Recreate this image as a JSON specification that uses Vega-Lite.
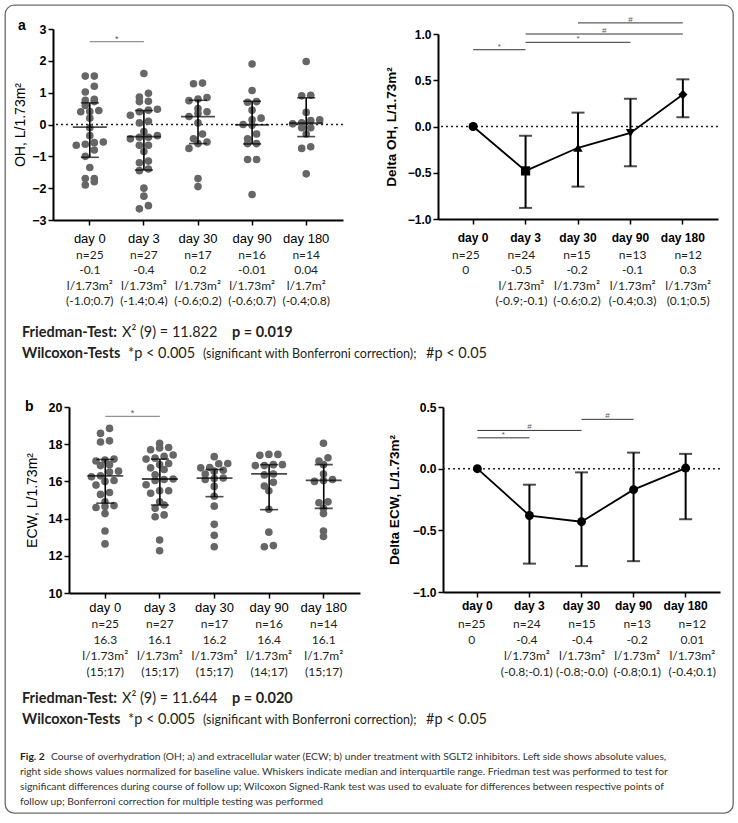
{
"$schema": "https://vega.github.io/schema/vega-lite/v6.json",
"background": "white",
"padding": 0,
"spacing": 0,
"bounds": "flush",
"config": {
  "view": {"stroke": null},
  "axis": {"grid": false, "labelOverlap": false, "domainColor": "black", "tickColor": "black", "labelColor": "black", "titleColor": "black", "labelFont": "Liberation Sans", "titleFont": "Liberation Sans"},
  "text": {"font": "Lato", "color": "#231f20"}
},
"datasets": {
  "ohAbs": [
    {"d":"day 0","v":1.52},{"d":"day 0","v":1.52},{"d":"day 0","v":1.2},{"d":"day 0","v":1.02},{"d":"day 0","v":0.79},{"d":"day 0","v":0.76},{"d":"day 0","v":0.72},{"d":"day 0","v":0.6},{"d":"day 0","v":0.44},{"d":"day 0","v":0.41},{"d":"day 0","v":0.4},{"d":"day 0","v":0.2},{"d":"day 0","v":-0.1},{"d":"day 0","v":-0.35},{"d":"day 0","v":-0.55},{"d":"day 0","v":-0.57},{"d":"day 0","v":-0.62},{"d":"day 0","v":-0.65},{"d":"day 0","v":-0.8},{"d":"day 0","v":-1.0},{"d":"day 0","v":-1.35},{"d":"day 0","v":-1.7},{"d":"day 0","v":-1.7},{"d":"day 0","v":-1.8},{"d":"day 0","v":-1.9},
    {"d":"day 3","v":1.6},{"d":"day 3","v":0.98},{"d":"day 3","v":0.86},{"d":"day 3","v":0.73},{"d":"day 3","v":0.72},{"d":"day 3","v":0.48},{"d":"day 3","v":0.45},{"d":"day 3","v":0.4},{"d":"day 3","v":0.29},{"d":"day 3","v":0.1},{"d":"day 3","v":0.05},{"d":"day 3","v":-0.22},{"d":"day 3","v":-0.35},{"d":"day 3","v":-0.4},{"d":"day 3","v":-0.4},{"d":"day 3","v":-0.45},{"d":"day 3","v":-0.65},{"d":"day 3","v":-0.65},{"d":"day 3","v":-0.85},{"d":"day 3","v":-1.15},{"d":"day 3","v":-1.2},{"d":"day 3","v":-1.4},{"d":"day 3","v":-1.45},{"d":"day 3","v":-2.0},{"d":"day 3","v":-2.25},{"d":"day 3","v":-2.55},{"d":"day 3","v":-2.65},
    {"d":"day 30","v":1.3},{"d":"day 30","v":1.28},{"d":"day 30","v":0.85},{"d":"day 30","v":0.8},{"d":"day 30","v":0.75},{"d":"day 30","v":0.5},{"d":"day 30","v":0.4},{"d":"day 30","v":0.35},{"d":"day 30","v":0.25},{"d":"day 30","v":0.05},{"d":"day 30","v":-0.3},{"d":"day 30","v":-0.45},{"d":"day 30","v":-0.55},{"d":"day 30","v":-0.6},{"d":"day 30","v":-0.75},{"d":"day 30","v":-1.7},{"d":"day 30","v":-1.95},
    {"d":"day 90","v":1.9},{"d":"day 90","v":1.07},{"d":"day 90","v":0.72},{"d":"day 90","v":0.7},{"d":"day 90","v":0.45},{"d":"day 90","v":0.2},{"d":"day 90","v":0.15},{"d":"day 90","v":0.0},{"d":"day 90","v":-0.02},{"d":"day 90","v":-0.3},{"d":"day 90","v":-0.45},{"d":"day 90","v":-0.6},{"d":"day 90","v":-0.6},{"d":"day 90","v":-1.1},{"d":"day 90","v":-1.1},{"d":"day 90","v":-2.2},
    {"d":"day 180","v":1.98},{"d":"day 180","v":0.92},{"d":"day 180","v":0.9},{"d":"day 180","v":0.38},{"d":"day 180","v":0.15},{"d":"day 180","v":0.12},{"d":"day 180","v":0.05},{"d":"day 180","v":0.02},{"d":"day 180","v":-0.1},{"d":"day 180","v":-0.1},{"d":"day 180","v":-0.3},{"d":"day 180","v":-0.7},{"d":"day 180","v":-0.75},{"d":"day 180","v":-1.55}
  ],
  "ohSum": [
    {"d":"day 0","med":-0.08,"q1":-1.03,"q3":0.68},
    {"d":"day 3","med":-0.38,"q1":-1.43,"q3":0.44},
    {"d":"day 30","med":0.25,"q1":-0.6,"q3":0.76},
    {"d":"day 90","med":-0.01,"q1":-0.61,"q3":0.73},
    {"d":"day 180","med":0.04,"q1":-0.38,"q3":0.84}
  ],
  "ohD": [
    {"d":"day 0","med":0},
    {"d":"day 3","med":-0.48,"lo":-0.88,"hi":-0.1},
    {"d":"day 30","med":-0.23,"lo":-0.65,"hi":0.15},
    {"d":"day 90","med":-0.07,"lo":-0.43,"hi":0.3},
    {"d":"day 180","med":0.345,"lo":0.1,"hi":0.51}
  ],
  "ecwAbs": [
    {"d":"day 0","v":18.85},{"d":"day 0","v":18.58},{"d":"day 0","v":18.18},{"d":"day 0","v":18.12},{"d":"day 0","v":17.2},{"d":"day 0","v":17.15},{"d":"day 0","v":17.1},{"d":"day 0","v":16.9},{"d":"day 0","v":16.85},{"d":"day 0","v":16.55},{"d":"day 0","v":16.5},{"d":"day 0","v":16.3},{"d":"day 0","v":16.25},{"d":"day 0","v":16.05},{"d":"day 0","v":16.0},{"d":"day 0","v":15.8},{"d":"day 0","v":15.4},{"d":"day 0","v":15.3},{"d":"day 0","v":14.9},{"d":"day 0","v":14.7},{"d":"day 0","v":14.65},{"d":"day 0","v":14.6},{"d":"day 0","v":14.27},{"d":"day 0","v":13.33},{"d":"day 0","v":12.64},
    {"d":"day 3","v":18.05},{"d":"day 3","v":17.82},{"d":"day 3","v":17.8},{"d":"day 3","v":17.7},{"d":"day 3","v":17.42},{"d":"day 3","v":17.35},{"d":"day 3","v":17.25},{"d":"day 3","v":17.2},{"d":"day 3","v":16.96},{"d":"day 3","v":16.9},{"d":"day 3","v":16.73},{"d":"day 3","v":16.64},{"d":"day 3","v":16.36},{"d":"day 3","v":16.13},{"d":"day 3","v":16.1},{"d":"day 3","v":16.05},{"d":"day 3","v":15.82},{"d":"day 3","v":15.5},{"d":"day 3","v":15.5},{"d":"day 3","v":15.36},{"d":"day 3","v":14.9},{"d":"day 3","v":14.73},{"d":"day 3","v":14.55},{"d":"day 3","v":14.2},{"d":"day 3","v":14.1},{"d":"day 3","v":12.85},{"d":"day 3","v":12.27},
    {"d":"day 30","v":17.33},{"d":"day 30","v":16.96},{"d":"day 30","v":16.95},{"d":"day 30","v":16.75},{"d":"day 30","v":16.73},{"d":"day 30","v":16.6},{"d":"day 30","v":16.55},{"d":"day 30","v":16.4},{"d":"day 30","v":16.18},{"d":"day 30","v":16.15},{"d":"day 30","v":16.1},{"d":"day 30","v":15.73},{"d":"day 30","v":15.2},{"d":"day 30","v":14.67},{"d":"day 30","v":13.69},{"d":"day 30","v":13.1},{"d":"day 30","v":12.49},
    {"d":"day 90","v":17.45},{"d":"day 90","v":17.45},{"d":"day 90","v":17.4},{"d":"day 90","v":16.9},{"d":"day 90","v":16.9},{"d":"day 90","v":16.85},{"d":"day 90","v":16.85},{"d":"day 90","v":16.4},{"d":"day 90","v":16.35},{"d":"day 90","v":15.95},{"d":"day 90","v":15.75},{"d":"day 90","v":15.5},{"d":"day 90","v":14.5},{"d":"day 90","v":13.27},{"d":"day 90","v":12.55},{"d":"day 90","v":12.49},
    {"d":"day 180","v":18.05},{"d":"day 180","v":17.27},{"d":"day 180","v":17.1},{"d":"day 180","v":16.9},{"d":"day 180","v":16.4},{"d":"day 180","v":16.1},{"d":"day 180","v":16.05},{"d":"day 180","v":16.0},{"d":"day 180","v":14.9},{"d":"day 180","v":14.85},{"d":"day 180","v":14.55},{"d":"day 180","v":14.27},{"d":"day 180","v":13.33},{"d":"day 180","v":13.04}
  ],
  "ecwSum": [
    {"d":"day 0","med":16.3,"q1":14.83,"q3":17.18},
    {"d":"day 3","med":16.13,"q1":14.73,"q3":17.2},
    {"d":"day 30","med":16.18,"q1":15.18,"q3":16.64},
    {"d":"day 90","med":16.4,"q1":14.48,"q3":16.9},
    {"d":"day 180","med":16.05,"q1":14.55,"q3":16.9}
  ],
  "ecwD": [
    {"d":"day 0","med":0},
    {"d":"day 3","med":-0.38,"lo":-0.77,"hi":-0.13},
    {"d":"day 30","med":-0.43,"lo":-0.79,"hi":-0.03},
    {"d":"day 90","med":-0.17,"lo":-0.75,"hi":0.13},
    {"d":"day 180","med":0.005,"lo":-0.41,"hi":0.12}
  ],
  "sigAL": [{"from":"day 0","to":"day 3","y":2.6,"s":"*","at":"day 0","pos":"edge"}],
  "sigAR": [
    {"from":"day 0","to":"day 3","y":0.83,"s":"*","at":"day 0","pos":"edge"},
    {"from":"day 3","to":"day 90","y":0.91,"s":"*","at":"day 30","pos":"center"},
    {"from":"day 3","to":"day 180","y":1.0,"s":"#","at":"day 30","pos":"edge"},
    {"from":"day 30","to":"day 180","y":1.12,"s":"#","at":"day 90","pos":"center"}
  ],
  "sigBL": [{"from":"day 0","to":"day 3","y":19.5,"s":"*","at":"day 0","pos":"edge"}],
  "sigBR": [
    {"from":"day 0","to":"day 3","y":0.25,"s":"*","at":"day 0","pos":"edge"},
    {"from":"day 0","to":"day 30","y":0.31,"s":"#","at":"day 3","pos":"center"},
    {"from":"day 30","to":"day 90","y":0.40,"s":"#","at":"day 30","pos":"edge"}
  ],
  "tblAL": [
    {"d":"day 0","line":0,"txt":"n=25"},{"d":"day 0","line":1,"txt":"-0.1"},{"d":"day 0","line":2,"txt":"l/1.73m²"},{"d":"day 0","line":3,"txt":"(-1.0;0.7)"},
    {"d":"day 3","line":0,"txt":"n=27"},{"d":"day 3","line":1,"txt":"-0.4"},{"d":"day 3","line":2,"txt":"l/1.73m²"},{"d":"day 3","line":3,"txt":"(-1.4;0.4)"},
    {"d":"day 30","line":0,"txt":"n=17"},{"d":"day 30","line":1,"txt":"0.2"},{"d":"day 30","line":2,"txt":"l/1.73m²"},{"d":"day 30","line":3,"txt":"(-0.6;0.2)"},
    {"d":"day 90","line":0,"txt":"n=16"},{"d":"day 90","line":1,"txt":"-0.01"},{"d":"day 90","line":2,"txt":"l/1.73m²"},{"d":"day 90","line":3,"txt":"(-0.6;0.7)"},
    {"d":"day 180","line":0,"txt":"n=14"},{"d":"day 180","line":1,"txt":"0.04"},{"d":"day 180","line":2,"txt":"l/1.7m²"},{"d":"day 180","line":3,"txt":"(-0.4;0.8)"}
  ],
  "tblAR": [
    {"d":"day 0","line":0,"txt":"n=25"},{"d":"day 0","line":1,"txt":"0"},
    {"d":"day 3","line":0,"txt":"n=24"},{"d":"day 3","line":1,"txt":"-0.5"},{"d":"day 3","line":2,"txt":"l/1.73m²"},{"d":"day 3","line":3,"txt":"(-0.9;-0.1)"},
    {"d":"day 30","line":0,"txt":"n=15"},{"d":"day 30","line":1,"txt":"-0.2"},{"d":"day 30","line":2,"txt":"l/1.73m²"},{"d":"day 30","line":3,"txt":"(-0.6;0.2)"},
    {"d":"day 90","line":0,"txt":"n=13"},{"d":"day 90","line":1,"txt":"-0.1"},{"d":"day 90","line":2,"txt":"l/1.73m²"},{"d":"day 90","line":3,"txt":"(-0.4;0.3)"},
    {"d":"day 180","line":0,"txt":"n=12"},{"d":"day 180","line":1,"txt":"0.3"},{"d":"day 180","line":2,"txt":"l/1.73m²"},{"d":"day 180","line":3,"txt":"(0.1;0.5)"}
  ],
  "tblBL": [
    {"d":"day 0","line":0,"txt":"n=25"},{"d":"day 0","line":1,"txt":"16.3"},{"d":"day 0","line":2,"txt":"l/1.73m²"},{"d":"day 0","line":3,"txt":"(15;17)"},
    {"d":"day 3","line":0,"txt":"n=27"},{"d":"day 3","line":1,"txt":"16.1"},{"d":"day 3","line":2,"txt":"l/1.73m²"},{"d":"day 3","line":3,"txt":"(15;17)"},
    {"d":"day 30","line":0,"txt":"n=17"},{"d":"day 30","line":1,"txt":"16.2"},{"d":"day 30","line":2,"txt":"l/1.73m²"},{"d":"day 30","line":3,"txt":"(15;17)"},
    {"d":"day 90","line":0,"txt":"n=16"},{"d":"day 90","line":1,"txt":"16.4"},{"d":"day 90","line":2,"txt":"l/1.73m²"},{"d":"day 90","line":3,"txt":"(14;17)"},
    {"d":"day 180","line":0,"txt":"n=14"},{"d":"day 180","line":1,"txt":"16.1"},{"d":"day 180","line":2,"txt":"l/1.7m²"},{"d":"day 180","line":3,"txt":"(15;17)"}
  ],
  "tblBR": [
    {"d":"day 0","line":0,"txt":"n=25"},{"d":"day 0","line":1,"txt":"0"},
    {"d":"day 3","line":0,"txt":"n=24"},{"d":"day 3","line":1,"txt":"-0.4"},{"d":"day 3","line":2,"txt":"l/1.73m²"},{"d":"day 3","line":3,"txt":"(-0.8;-0.1)"},
    {"d":"day 30","line":0,"txt":"n=15"},{"d":"day 30","line":1,"txt":"-0.4"},{"d":"day 30","line":2,"txt":"l/1.73m²"},{"d":"day 30","line":3,"txt":"(-0.8;-0.0)"},
    {"d":"day 90","line":0,"txt":"n=13"},{"d":"day 90","line":1,"txt":"-0.2"},{"d":"day 90","line":2,"txt":"l/1.73m²"},{"d":"day 90","line":3,"txt":"(-0.8;0.1)"},
    {"d":"day 180","line":0,"txt":"n=12"},{"d":"day 180","line":1,"txt":"0.01"},{"d":"day 180","line":2,"txt":"l/1.73m²"},{"d":"day 180","line":3,"txt":"(-0.4;0.1)"}
  ],
  "txtA": [
    {"line":0,"seg":"head","txt":"Friedman-Test:"},
    {"line":0,"seg":"stat","txt":"X² (9) = 11.822"},
    {"line":0,"seg":"p","txt":"p = 0.019"},
    {"line":1,"seg":"head","txt":"Wilcoxon-Tests"},
    {"line":1,"seg":"star","txt":"*p < 0.005"},
    {"line":1,"seg":"paren","txt":"(significant with Bonferroni correction);"},
    {"line":1,"seg":"hash","txt":"#p < 0.05"}
  ],
  "txtB": [
    {"line":0,"seg":"head","txt":"Friedman-Test:"},
    {"line":0,"seg":"stat","txt":"X² (9) = 11.644"},
    {"line":0,"seg":"p","txt":"p = 0.020"},
    {"line":1,"seg":"head","txt":"Wilcoxon-Tests"},
    {"line":1,"seg":"star","txt":"*p < 0.005"},
    {"line":1,"seg":"paren","txt":"(significant with Bonferroni correction);"},
    {"line":1,"seg":"hash","txt":"#p < 0.05"}
  ],
  "cap": [
    {"line":0,"seg":"fig","txt":"Fig. 2"},
    {"line":0,"seg":"first","txt":"Course of overhydration (OH; a) and extracellular water (ECW; b) under treatment with SGLT2 inhibitors. Left side shows absolute values,"},
    {"line":1,"seg":"body","txt":"right side shows values normalized for baseline value. Whiskers indicate median and interquartile range. Friedman test was performed to test for"},
    {"line":2,"seg":"body","txt":"significant differences during course of follow up; Wilcoxon Signed-Rank test was used to evaluate for differences between respective points of"},
    {"line":3,"seg":"body","txt":"follow up; Bonferroni correction for multiple testing was performed"}
  ]
},
"vconcat": [
  {"vconcat": [
    {"width": 1, "height": 5, "data": {"values": []}, "mark": "point"},
    {"hconcat": [
      {"width": 5, "height": 1, "data": {"values": []}, "mark": "point"},
      {"width": 728, "height": 808, "data": {"values": []}, "mark": "point", "view": {"stroke": "#6b6b6b", "strokeWidth": 1.3, "cornerRadius": 9, "fill": null}}
    ], "spacing": 0, "bounds": "flush"}
  ], "spacing": 0, "bounds": "flush"},
  {"width": 1, "height": 29, "data": {"values": []}, "mark": "point"},
  {"hconcat": [
    {"width": 53, "height": 191, "data": {"values": []}, "mark": "point",
     "title": {"text": "a", "anchor": "start", "align": "left", "frame": "group", "dx": 18, "dy": 15, "offset": 0, "baseline": "alphabetic", "font": "Liberation Sans", "fontSize": 14, "fontWeight": "bold", "color": "black"}},
    {"width": 290, "height": 191,
     "layer": [
      {"data": {"values": [{}]}, "mark": {"type": "rule", "strokeDash": [2, 3], "strokeWidth": 1.5, "color": "#222"}, "encoding": {"y": {"datum": 0, "type": "quantitative"}}},
      {"data": {"name": "ohAbs"},
       "transform": [
         {"bin": {"step": 0.25}, "field": "v", "as": "vb"},
         {"window": [{"op": "row_number", "as": "r"}, {"op": "count", "as": "c"}], "groupby": ["d", "vb"], "sort": [{"field": "v"}], "frame": [null, null]},
         {"calculate": "datum.r - (datum.c + 1) / 2", "as": "off"}
       ],
       "mark": {"type": "circle", "size": 58, "color": "#666666", "opacity": 1},
       "encoding": {
         "x": {"field": "d", "type": "nominal", "scale": {"type": "band", "domain": ["day 0","day 3","day 30","day 90","day 180"], "paddingInner": 0, "paddingOuter": 0.18},
               "axis": {"title": null, "labelAngle": 0, "labelFontSize": 13, "labelFontWeight": "normal", "labelPadding": 7, "tickSize": 5, "tickWidth": 1.5, "domainWidth": 2}},
         "xOffset": {"field": "off", "type": "quantitative", "scale": {"domain": [-3, 3]}},
         "y": {"field": "v", "type": "quantitative", "scale": {"domain": [-3, 3], "nice": false, "zero": false},
               "axis": {"values": [-3,-2,-1,0,1,2,3], "format": "d", "tickCount": 20, "labelOverlap": false, "title": "OH, L/1.73m²", "titleFontSize": 14, "titleFontWeight": "normal", "titlePadding": 4, "labelFontSize": 12.5, "labelFontWeight": "bold", "labelPadding": 2, "tickSize": 5, "tickWidth": 1.5, "domainWidth": 2}}
       }},
      {"data": {"name": "ohSum"}, "mark": {"type": "rule", "strokeWidth": 1.6, "color": "black"},
       "encoding": {"x": {"field": "d", "type": "nominal", "scale": {"type": "band", "domain": ["day 0","day 3","day 30","day 90","day 180"], "paddingInner": 0, "paddingOuter": 0.18}}, "y": {"field": "q1", "type": "quantitative"}, "y2": {"field": "q3"}}},
      {"data": {"name": "ohSum"}, "mark": {"type": "tick", "orient": "horizontal", "size": 34, "thickness": 1.8, "color": "black"},
       "encoding": {"x": {"field": "d", "type": "nominal", "scale": {"type": "band", "domain": ["day 0","day 3","day 30","day 90","day 180"], "paddingInner": 0, "paddingOuter": 0.18}}, "y": {"field": "med", "type": "quantitative"}}},
      {"data": {"name": "ohSum"}, "mark": {"type": "tick", "orient": "horizontal", "size": 18, "thickness": 1.6, "color": "black"},
       "encoding": {"x": {"field": "d", "type": "nominal", "scale": {"type": "band", "domain": ["day 0","day 3","day 30","day 90","day 180"], "paddingInner": 0, "paddingOuter": 0.18}}, "y": {"field": "q1", "type": "quantitative"}}},
      {"data": {"name": "ohSum"}, "mark": {"type": "tick", "orient": "horizontal", "size": 18, "thickness": 1.6, "color": "black"},
       "encoding": {"x": {"field": "d", "type": "nominal", "scale": {"type": "band", "domain": ["day 0","day 3","day 30","day 90","day 180"], "paddingInner": 0, "paddingOuter": 0.18}}, "y": {"field": "q3", "type": "quantitative"}}},
      {"data": {"name": "sigAL"}, "mark": {"type": "rule", "color": "#777", "strokeWidth": 1},
       "encoding": {"x": {"field": "from", "type": "nominal", "scale": {"type": "band", "domain": ["day 0","day 3","day 30","day 90","day 180"], "paddingInner": 0, "paddingOuter": 0.18}}, "x2": {"field": "to"}, "y": {"field": "y", "type": "quantitative"}}},
      {"data": {"name": "sigAL"}, "mark": {"type": "text", "fontSize": 9, "color": "#555", "baseline": "alphabetic", "font": "Liberation Sans"},
       "encoding": {"x": {"field": "at", "type": "nominal", "bandPosition": 1, "scale": {"type": "band", "domain": ["day 0","day 3","day 30","day 90","day 180"], "paddingInner": 0, "paddingOuter": 0.18}}, "y": {"field": "y", "type": "quantitative"}, "text": {"field": "s"}}}
     ]},
    {"width": 95, "height": 1, "data": {"values": []}, "mark": "point"},
    {"vconcat": [
      {"width": 1, "height": 5, "data": {"values": []}, "mark": "point"},
      {"width": 280, "height": 185,
       "layer": [
        {"data": {"values": [{}]}, "mark": {"type": "rule", "strokeDash": [2, 3], "strokeWidth": 1.5, "color": "#222"}, "encoding": {"y": {"datum": 0, "type": "quantitative"}}},
        {"data": {"name": "ohD"}, "transform": [{"filter": "isValid(datum.lo)"}], "mark": {"type": "rule", "strokeWidth": 2, "color": "black"},
         "encoding": {
           "x": {"field": "d", "type": "nominal", "scale": {"type": "band", "domain": ["day 0","day 3","day 30","day 90","day 180"], "paddingInner": 0, "paddingOuter": 0.17},
                 "axis": {"title": null, "labelAngle": 0, "labelFontSize": 12, "labelFontWeight": "bold", "labelPadding": 8, "tickSize": 5, "tickWidth": 1.5, "domainWidth": 2}},
           "y": {"field": "lo", "type": "quantitative", "scale": {"domain": [-1, 1], "nice": false, "zero": false},
                 "axis": {"values": [-1,-0.5,0,0.5,1], "tickCount": 20, "labelOverlap": false, "format": ".1f", "title": "Delta OH, L/1.73m²", "titleFontSize": 13.5, "titleFontWeight": "bold", "titlePadding": 9, "labelFontSize": 12, "labelFontWeight": "bold", "labelPadding": 2, "tickSize": 5, "tickWidth": 1.5, "domainWidth": 2}},
           "y2": {"field": "hi"}
         }},
        {"data": {"name": "ohD"}, "transform": [{"filter": "isValid(datum.lo)"}], "mark": {"type": "tick", "orient": "horizontal", "size": 13, "thickness": 2, "color": "black"},
         "encoding": {"x": {"field": "d", "type": "nominal", "scale": {"type": "band", "domain": ["day 0","day 3","day 30","day 90","day 180"], "paddingInner": 0, "paddingOuter": 0.17}}, "y": {"field": "lo", "type": "quantitative"}}},
        {"data": {"name": "ohD"}, "transform": [{"filter": "isValid(datum.hi)"}], "mark": {"type": "tick", "orient": "horizontal", "size": 13, "thickness": 2, "color": "black"},
         "encoding": {"x": {"field": "d", "type": "nominal", "scale": {"type": "band", "domain": ["day 0","day 3","day 30","day 90","day 180"], "paddingInner": 0, "paddingOuter": 0.17}}, "y": {"field": "hi", "type": "quantitative"}}},
        {"data": {"name": "ohD"}, "mark": {"type": "line", "strokeWidth": 1.8, "color": "black"},
         "encoding": {"x": {"field": "d", "type": "nominal", "scale": {"type": "band", "domain": ["day 0","day 3","day 30","day 90","day 180"], "paddingInner": 0, "paddingOuter": 0.17}}, "y": {"field": "med", "type": "quantitative"}}},
        {"data": {"name": "ohD"}, "mark": {"type": "point", "filled": true, "size": 85, "color": "black", "opacity": 1},
         "encoding": {"x": {"field": "d", "type": "nominal", "scale": {"type": "band", "domain": ["day 0","day 3","day 30","day 90","day 180"], "paddingInner": 0, "paddingOuter": 0.17}}, "y": {"field": "med", "type": "quantitative"},
           "shape": {"field": "d", "type": "nominal", "scale": {"domain": ["day 0","day 3","day 30","day 90","day 180"], "range": ["circle","square","triangle-up","triangle-down","diamond"]}, "legend": null}}},
        {"data": {"name": "sigAR"}, "mark": {"type": "rule", "color": "#333", "strokeWidth": 1},
         "encoding": {"x": {"field": "from", "type": "nominal", "scale": {"type": "band", "domain": ["day 0","day 3","day 30","day 90","day 180"], "paddingInner": 0, "paddingOuter": 0.17}}, "x2": {"field": "to"}, "y": {"field": "y", "type": "quantitative"}}},
        {"data": {"name": "sigAR"}, "transform": [{"filter": "datum.pos == 'edge'"}], "mark": {"type": "text", "fontSize": 8, "color": "#555", "baseline": "alphabetic", "font": "Liberation Sans", "dy": -1},
         "encoding": {"x": {"field": "at", "type": "nominal", "bandPosition": 1, "scale": {"type": "band", "domain": ["day 0","day 3","day 30","day 90","day 180"], "paddingInner": 0, "paddingOuter": 0.17}}, "y": {"field": "y", "type": "quantitative"}, "text": {"field": "s"}}},
        {"data": {"name": "sigAR"}, "transform": [{"filter": "datum.pos == 'center'"}], "mark": {"type": "text", "fontSize": 8, "color": "#555", "baseline": "alphabetic", "font": "Liberation Sans", "dy": -1},
         "encoding": {"x": {"field": "at", "type": "nominal", "bandPosition": 0.5, "scale": {"type": "band", "domain": ["day 0","day 3","day 30","day 90","day 180"], "paddingInner": 0, "paddingOuter": 0.17}}, "y": {"field": "y", "type": "quantitative"}, "text": {"field": "s"}}}
       ]}
    ], "spacing": 0, "bounds": "flush"}
  ], "spacing": 0, "bounds": "flush"},
  {"width": 1, "height": 218, "data": {"values": []}, "mark": "point"},
  {"hconcat": [
    {"width": 53, "height": 1, "data": {"values": []}, "mark": "point"},
    {"width": 290, "height": 62, "data": {"name": "tblAL"}, "mark": {"type": "text", "fontSize": 12, "font": "Lato", "color": "#231f20"},
     "encoding": {
       "x": {"field": "d", "type": "nominal", "scale": {"type": "band", "domain": ["day 0","day 3","day 30","day 90","day 180"], "paddingInner": 0, "paddingOuter": 0.18}, "axis": null},
       "y": {"field": "line", "type": "ordinal", "scale": {"type": "band", "paddingInner": 0, "paddingOuter": 0}, "axis": null},
       "text": {"field": "txt"}
     }},
    {"width": 95, "height": 1, "data": {"values": []}, "mark": "point"},
    {"width": 278, "height": 62, "data": {"name": "tblAR"}, "mark": {"type": "text", "fontSize": 12, "font": "Lato", "color": "#231f20"},
     "encoding": {
       "x": {"field": "d", "type": "nominal", "scale": {"type": "band", "domain": ["day 0","day 3","day 30","day 90","day 180"], "paddingInner": 0, "paddingOuter": 0}, "axis": null},
       "y": {"field": "line", "type": "ordinal", "scale": {"type": "band", "paddingInner": 0, "paddingOuter": 0}, "axis": null},
       "text": {"field": "txt"},
       "fontWeight": {"condition": {"test": "datum.line == 1 && datum.d == 'day 3'", "value": "bold"}, "value": "normal"}
     }}
  ], "spacing": 0, "bounds": "flush"},
  {"width": 1, "height": 74.5, "data": {"values": []}, "mark": "point"},
  {"hconcat": [
    {"width": 22, "height": 1, "data": {"values": []}, "mark": "point"},
    {"width": 700, "height": 42, "data": {"name": "txtA"},
     "encoding": {
       "x": {"datum": 0, "type": "quantitative", "scale": {"domain": [0, 1]}, "axis": null},
       "y": {"field": "line", "type": "ordinal", "scale": {"type": "band", "paddingInner": 0, "paddingOuter": 0}, "axis": null},
       "text": {"field": "txt"}
     },
     "layer": [
      {"transform": [{"filter": "datum.seg == 'head'"}], "mark": {"type": "text", "align": "left", "fontSize": 14.5, "fontWeight": "bold"}},
      {"transform": [{"filter": "datum.seg == 'stat'"}], "mark": {"type": "text", "align": "left", "fontSize": 14.5, "dx": 100}},
      {"transform": [{"filter": "datum.seg == 'p'"}], "mark": {"type": "text", "align": "left", "fontSize": 14.5, "fontWeight": "bold", "dx": 210}},
      {"transform": [{"filter": "datum.seg == 'star'"}], "mark": {"type": "text", "align": "left", "fontSize": 14.5, "dx": 106}},
      {"transform": [{"filter": "datum.seg == 'paren'"}], "mark": {"type": "text", "align": "left", "fontSize": 12.5, "dx": 181}},
      {"transform": [{"filter": "datum.seg == 'hash'"}], "mark": {"type": "text", "align": "left", "fontSize": 14.5, "dx": 404}}
     ]}
  ], "spacing": 0, "bounds": "flush"},
  {"width": 1, "height": 84.5, "data": {"values": []}, "mark": "point"},
  {"hconcat": [
    {"width": 69, "height": 186, "data": {"values": []}, "mark": "point",
     "title": {"text": "b", "anchor": "start", "align": "left", "frame": "group", "dx": 25, "dy": 18, "offset": 0, "baseline": "alphabetic", "font": "Liberation Sans", "fontSize": 14, "fontWeight": "bold", "color": "black"}},
    {"width": 291, "height": 186,
     "layer": [
      {"data": {"name": "ecwAbs"},
       "transform": [
         {"bin": {"step": 0.45}, "field": "v", "as": "vb"},
         {"window": [{"op": "row_number", "as": "r"}, {"op": "count", "as": "c"}], "groupby": ["d", "vb"], "sort": [{"field": "v"}], "frame": [null, null]},
         {"calculate": "datum.r - (datum.c + 1) / 2", "as": "off"}
       ],
       "mark": {"type": "circle", "size": 58, "color": "#666666", "opacity": 1},
       "encoding": {
         "x": {"field": "d", "type": "nominal", "scale": {"type": "band", "domain": ["day 0","day 3","day 30","day 90","day 180"], "paddingInner": 0, "paddingOuter": 0.164},
               "axis": {"title": null, "labelAngle": 0, "labelFontSize": 13, "labelFontWeight": "normal", "labelPadding": 3, "tickSize": 5, "tickWidth": 1.5, "domainWidth": 2}},
         "xOffset": {"field": "off", "type": "quantitative", "scale": {"domain": [-3, 3]}},
         "y": {"field": "v", "type": "quantitative", "scale": {"domain": [10, 20], "nice": false, "zero": false},
               "axis": {"values": [10,12,14,16,18,20], "format": "d", "tickCount": 20, "labelOverlap": false, "title": "ECW, L/1.73m²", "titleFontSize": 14, "titleFontWeight": "normal", "titlePadding": 9, "labelFontSize": 12.5, "labelFontWeight": "bold", "labelPadding": 2, "tickSize": 5, "tickWidth": 1.5, "domainWidth": 2}}
       }},
      {"data": {"name": "ecwSum"}, "mark": {"type": "rule", "strokeWidth": 1.6, "color": "black"},
       "encoding": {"x": {"field": "d", "type": "nominal", "scale": {"type": "band", "domain": ["day 0","day 3","day 30","day 90","day 180"], "paddingInner": 0, "paddingOuter": 0.164}}, "y": {"field": "q1", "type": "quantitative"}, "y2": {"field": "q3"}}},
      {"data": {"name": "ecwSum"}, "mark": {"type": "tick", "orient": "horizontal", "size": 36, "thickness": 1.8, "color": "black"},
       "encoding": {"x": {"field": "d", "type": "nominal", "scale": {"type": "band", "domain": ["day 0","day 3","day 30","day 90","day 180"], "paddingInner": 0, "paddingOuter": 0.164}}, "y": {"field": "med", "type": "quantitative"}}},
      {"data": {"name": "ecwSum"}, "mark": {"type": "tick", "orient": "horizontal", "size": 18, "thickness": 1.6, "color": "black"},
       "encoding": {"x": {"field": "d", "type": "nominal", "scale": {"type": "band", "domain": ["day 0","day 3","day 30","day 90","day 180"], "paddingInner": 0, "paddingOuter": 0.164}}, "y": {"field": "q1", "type": "quantitative"}}},
      {"data": {"name": "ecwSum"}, "mark": {"type": "tick", "orient": "horizontal", "size": 18, "thickness": 1.6, "color": "black"},
       "encoding": {"x": {"field": "d", "type": "nominal", "scale": {"type": "band", "domain": ["day 0","day 3","day 30","day 90","day 180"], "paddingInner": 0, "paddingOuter": 0.164}}, "y": {"field": "q3", "type": "quantitative"}}},
      {"data": {"name": "sigBL"}, "mark": {"type": "rule", "color": "#777", "strokeWidth": 1},
       "encoding": {"x": {"field": "from", "type": "nominal", "scale": {"type": "band", "domain": ["day 0","day 3","day 30","day 90","day 180"], "paddingInner": 0, "paddingOuter": 0.164}}, "x2": {"field": "to"}, "y": {"field": "y", "type": "quantitative"}}},
      {"data": {"name": "sigBL"}, "mark": {"type": "text", "fontSize": 9, "color": "#555", "baseline": "alphabetic", "font": "Liberation Sans"},
       "encoding": {"x": {"field": "at", "type": "nominal", "bandPosition": 1, "scale": {"type": "band", "domain": ["day 0","day 3","day 30","day 90","day 180"], "paddingInner": 0, "paddingOuter": 0.164}}, "y": {"field": "y", "type": "quantitative"}, "text": {"field": "s"}}}
     ]},
    {"width": 83, "height": 1, "data": {"values": []}, "mark": "point"},
    {"width": 277, "height": 185,
     "layer": [
      {"data": {"values": [{}]}, "mark": {"type": "rule", "strokeDash": [2, 3], "strokeWidth": 1.5, "color": "#222"}, "encoding": {"y": {"datum": 0, "type": "quantitative"}}},
      {"data": {"name": "ecwD"}, "transform": [{"filter": "isValid(datum.lo)"}], "mark": {"type": "rule", "strokeWidth": 2, "color": "black"},
       "encoding": {
         "x": {"field": "d", "type": "nominal", "scale": {"type": "band", "domain": ["day 0","day 3","day 30","day 90","day 180"], "paddingInner": 0, "paddingOuter": 0.16},
               "axis": {"title": null, "labelAngle": 0, "labelFontSize": 12, "labelFontWeight": "bold", "labelPadding": 3, "tickSize": 5, "tickWidth": 1.5, "domainWidth": 2}},
         "y": {"field": "lo", "type": "quantitative", "scale": {"domain": [-1, 0.5], "nice": false, "zero": false},
               "axis": {"values": [-1,-0.5,0,0.5], "tickCount": 20, "labelOverlap": false, "format": ".1f", "title": "Delta ECW, L/1.73m²", "titleFontSize": 13.5, "titleFontWeight": "bold", "titlePadding": 11, "labelFontSize": 12, "labelFontWeight": "bold", "labelPadding": 2, "tickSize": 5, "tickWidth": 1.5, "domainWidth": 2}},
         "y2": {"field": "hi"}
       }},
      {"data": {"name": "ecwD"}, "transform": [{"filter": "isValid(datum.lo)"}], "mark": {"type": "tick", "orient": "horizontal", "size": 13, "thickness": 2, "color": "black"},
       "encoding": {"x": {"field": "d", "type": "nominal", "scale": {"type": "band", "domain": ["day 0","day 3","day 30","day 90","day 180"], "paddingInner": 0, "paddingOuter": 0.16}}, "y": {"field": "lo", "type": "quantitative"}}},
      {"data": {"name": "ecwD"}, "transform": [{"filter": "isValid(datum.hi)"}], "mark": {"type": "tick", "orient": "horizontal", "size": 13, "thickness": 2, "color": "black"},
       "encoding": {"x": {"field": "d", "type": "nominal", "scale": {"type": "band", "domain": ["day 0","day 3","day 30","day 90","day 180"], "paddingInner": 0, "paddingOuter": 0.16}}, "y": {"field": "hi", "type": "quantitative"}}},
      {"data": {"name": "ecwD"}, "mark": {"type": "line", "strokeWidth": 1.8, "color": "black"},
       "encoding": {"x": {"field": "d", "type": "nominal", "scale": {"type": "band", "domain": ["day 0","day 3","day 30","day 90","day 180"], "paddingInner": 0, "paddingOuter": 0.16}}, "y": {"field": "med", "type": "quantitative"}}},
      {"data": {"name": "ecwD"}, "mark": {"type": "circle", "size": 80, "color": "black", "opacity": 1},
       "encoding": {"x": {"field": "d", "type": "nominal", "scale": {"type": "band", "domain": ["day 0","day 3","day 30","day 90","day 180"], "paddingInner": 0, "paddingOuter": 0.16}}, "y": {"field": "med", "type": "quantitative"}}},
      {"data": {"name": "sigBR"}, "mark": {"type": "rule", "color": "#333", "strokeWidth": 1},
       "encoding": {"x": {"field": "from", "type": "nominal", "scale": {"type": "band", "domain": ["day 0","day 3","day 30","day 90","day 180"], "paddingInner": 0, "paddingOuter": 0.16}}, "x2": {"field": "to"}, "y": {"field": "y", "type": "quantitative"}}},
      {"data": {"name": "sigBR"}, "transform": [{"filter": "datum.pos == 'edge'"}], "mark": {"type": "text", "fontSize": 8, "color": "#555", "baseline": "alphabetic", "font": "Liberation Sans", "dy": -1},
       "encoding": {"x": {"field": "at", "type": "nominal", "bandPosition": 1, "scale": {"type": "band", "domain": ["day 0","day 3","day 30","day 90","day 180"], "paddingInner": 0, "paddingOuter": 0.16}}, "y": {"field": "y", "type": "quantitative"}, "text": {"field": "s"}}},
      {"data": {"name": "sigBR"}, "transform": [{"filter": "datum.pos == 'center'"}], "mark": {"type": "text", "fontSize": 8, "color": "#555", "baseline": "alphabetic", "font": "Liberation Sans", "dy": -1},
       "encoding": {"x": {"field": "at", "type": "nominal", "bandPosition": 0.5, "scale": {"type": "band", "domain": ["day 0","day 3","day 30","day 90","day 180"], "paddingInner": 0, "paddingOuter": 0.16}}, "y": {"field": "y", "type": "quantitative"}, "text": {"field": "s"}}}
     ]}
  ], "spacing": 0, "bounds": "flush"},
  {"width": 1, "height": 209, "data": {"values": []}, "mark": "point"},
  {"hconcat": [
    {"width": 69, "height": 1, "data": {"values": []}, "mark": "point"},
    {"width": 291, "height": 64, "data": {"name": "tblBL"}, "mark": {"type": "text", "fontSize": 12, "font": "Lato", "color": "#231f20"},
     "encoding": {
       "x": {"field": "d", "type": "nominal", "scale": {"type": "band", "domain": ["day 0","day 3","day 30","day 90","day 180"], "paddingInner": 0, "paddingOuter": 0.164}, "axis": null},
       "y": {"field": "line", "type": "ordinal", "scale": {"type": "band", "paddingInner": 0, "paddingOuter": 0}, "axis": null},
       "text": {"field": "txt"}
     }},
    {"width": 83, "height": 1, "data": {"values": []}, "mark": "point"},
    {"width": 278, "height": 64, "data": {"name": "tblBR"}, "mark": {"type": "text", "fontSize": 12, "font": "Lato", "color": "#231f20"},
     "encoding": {
       "x": {"field": "d", "type": "nominal", "scale": {"type": "band", "domain": ["day 0","day 3","day 30","day 90","day 180"], "paddingInner": 0, "paddingOuter": 0.02}, "axis": null},
       "y": {"field": "line", "type": "ordinal", "scale": {"type": "band", "paddingInner": 0, "paddingOuter": 0}, "axis": null},
       "text": {"field": "txt"},
       "fontWeight": {"condition": {"test": "datum.line == 1 && datum.d == 'day 3'", "value": "bold"}, "value": "normal"}
     }}
  ], "spacing": 0, "bounds": "flush"},
  {"width": 1, "height": 71.5, "data": {"values": []}, "mark": "point"},
  {"hconcat": [
    {"width": 22, "height": 1, "data": {"values": []}, "mark": "point"},
    {"width": 700, "height": 42, "data": {"name": "txtB"},
     "encoding": {
       "x": {"datum": 0, "type": "quantitative", "scale": {"domain": [0, 1]}, "axis": null},
       "y": {"field": "line", "type": "ordinal", "scale": {"type": "band", "paddingInner": 0, "paddingOuter": 0}, "axis": null},
       "text": {"field": "txt"}
     },
     "layer": [
      {"transform": [{"filter": "datum.seg == 'head'"}], "mark": {"type": "text", "align": "left", "fontSize": 14.5, "fontWeight": "bold"}},
      {"transform": [{"filter": "datum.seg == 'stat'"}], "mark": {"type": "text", "align": "left", "fontSize": 14.5, "dx": 100}},
      {"transform": [{"filter": "datum.seg == 'p'"}], "mark": {"type": "text", "align": "left", "fontSize": 14.5, "fontWeight": "bold", "dx": 210}},
      {"transform": [{"filter": "datum.seg == 'star'"}], "mark": {"type": "text", "align": "left", "fontSize": 14.5, "dx": 106}},
      {"transform": [{"filter": "datum.seg == 'paren'"}], "mark": {"type": "text", "align": "left", "fontSize": 12.5, "dx": 181}},
      {"transform": [{"filter": "datum.seg == 'hash'"}], "mark": {"type": "text", "align": "left", "fontSize": 14.5, "dx": 404}}
     ]}
  ], "spacing": 0, "bounds": "flush"},
  {"width": 1, "height": 61, "data": {"values": []}, "mark": "point"},
  {"hconcat": [
    {"width": 20, "height": 1, "data": {"values": []}, "mark": "point"},
    {"width": 710, "height": 60, "data": {"name": "cap"},
     "encoding": {
       "x": {"datum": 0, "type": "quantitative", "scale": {"domain": [0, 1]}, "axis": null},
       "y": {"field": "line", "type": "ordinal", "scale": {"type": "band", "paddingInner": 0, "paddingOuter": 0}, "axis": null},
       "text": {"field": "txt"}
     },
     "layer": [
      {"transform": [{"filter": "datum.seg == 'fig'"}], "mark": {"type": "text", "align": "left", "font": "Lato", "fontSize": 10.3, "fontWeight": "bold", "color": "#231f20"}},
      {"transform": [{"filter": "datum.seg == 'first'"}], "mark": {"type": "text", "align": "left", "font": "Lato", "fontSize": 10.3, "color": "#333", "dx": 31}},
      {"transform": [{"filter": "datum.seg == 'body'"}], "mark": {"type": "text", "align": "left", "font": "Lato", "fontSize": 10.3, "color": "#333"}}
     ]}
  ], "spacing": 0, "bounds": "flush"}
]
}
